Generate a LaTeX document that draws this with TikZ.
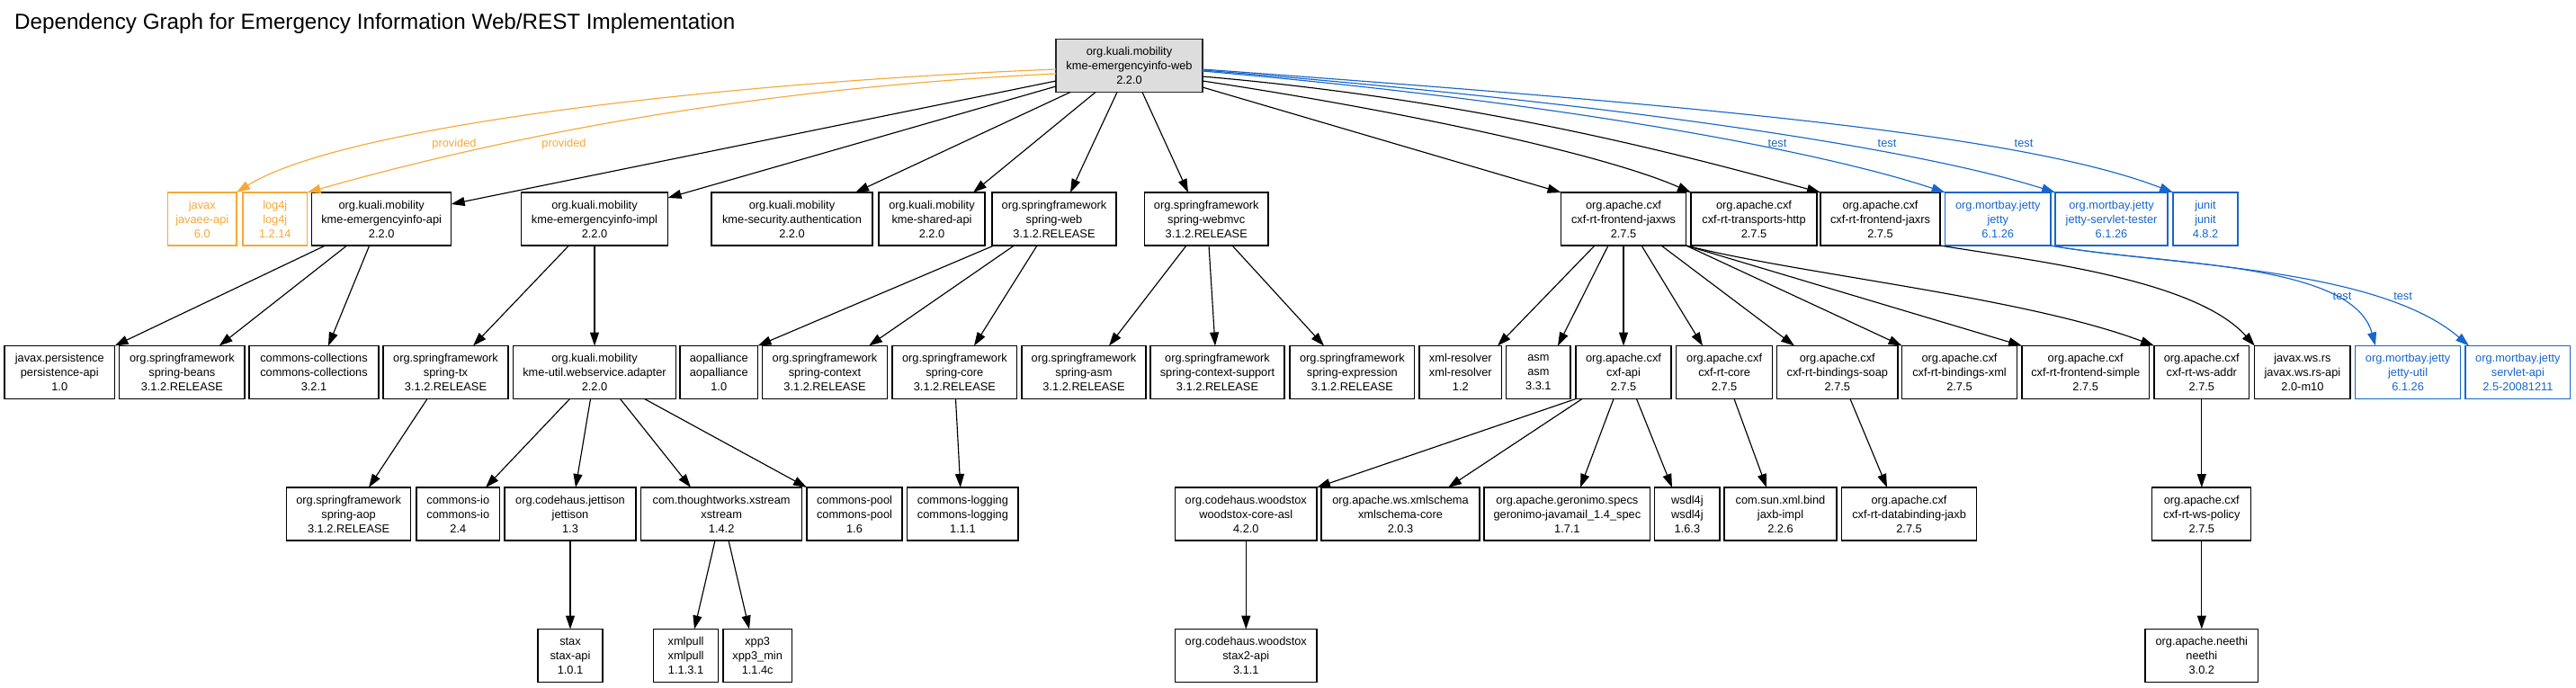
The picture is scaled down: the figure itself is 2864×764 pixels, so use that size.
\documentclass[tikz,border=0pt]{standalone}
\usepackage{fontspec}
\setmainfont{Liberation Sans}
\usetikzlibrary{arrows.meta,calc}
\definecolor{orng}{RGB}{247,168,55}
\definecolor{blu}{RGB}{22,102,204}
\definecolor{rootgray}{RGB}{221,221,221}
\begin{document}
\begin{tikzpicture}[x=1pt,y=-1pt,
  box/.style={draw=black, line width=1.3pt, fill=white, inner sep=0pt, outer sep=0pt,
    minimum height=59pt, align=center, font=\fontsize{12.8}{16}\selectfont},
  obox/.style={box, draw=orng, text=orng},
  bbox/.style={box, draw=blu, text=blu},
  rbox/.style={box, fill=rootgray, draw=black!85, line width=1.8pt},
  dep/.style={draw=black, line width=1.15pt, -{Triangle[length=15pt,width=10pt]}},
  odep/.style={dep, draw=orng},
  bdep/.style={dep, draw=blu},
  lbl/.style={font=\fontsize{12.8}{16}\selectfont, inner sep=0pt}
]
\useasboundingbox (0,0) rectangle (2864,764);
\node[anchor=base west, inner sep=0pt, font=\fontsize{24.2}{28}\selectfont] (title) at (16,32) {Dependency Graph for Emergency Information Web/REST Implementation};

% row 1
\node[rbox, minimum width=163] (n_root) at (1255.5,73) {org.kuali.mobility\\kme-emergencyinfo-web\\2.2.0};

% row 2
\node[obox, minimum width=76.4] (n_javaee) at (224.8,243.5) {javax\\javaee-api\\6.0};
\node[obox, minimum width=71.6] (n_log4j) at (305.8,243.5) {log4j\\log4j\\1.2.14};
\node[box, minimum width=155] (n_api) at (424.2,243.5) {org.kuali.mobility\\kme-emergencyinfo-api\\2.2.0};
\node[box, minimum width=163] (n_impl) at (661,243.5) {org.kuali.mobility\\kme-emergencyinfo-impl\\2.2.0};
\node[box, minimum width=179] (n_sec) at (880.5,243.5) {org.kuali.mobility\\kme-security.authentication\\2.2.0};
\node[box, minimum width=118] (n_shared) at (1036,243.5) {org.kuali.mobility\\kme-shared-api\\2.2.0};
\node[box, minimum width=138] (n_sweb) at (1172,243.5) {org.springframework\\spring-web\\3.1.2.RELEASE};
\node[box, minimum width=137.5] (n_smvc) at (1341.25,243.5) {org.springframework\\spring-webmvc\\3.1.2.RELEASE};
\node[box, minimum width=139] (n_jaxws) at (1805,243.5) {org.apache.cxf\\cxf-rt-frontend-jaxws\\2.7.5};
\node[box, minimum width=140] (n_transp) at (1950,243.5) {org.apache.cxf\\cxf-rt-transports-http\\2.7.5};
\node[box, minimum width=133] (n_jaxrs) at (2090.5,243.5) {org.apache.cxf\\cxf-rt-frontend-jaxrs\\2.7.5};
\node[bbox, minimum width=117.5] (n_jetty) at (2221.25,243.5) {org.mortbay.jetty\\jetty\\6.1.26};
\node[bbox, minimum width=125] (n_tester) at (2347.5,243.5) {org.mortbay.jetty\\jetty-servlet-tester\\6.1.26};
\node[bbox, minimum width=72] (n_junit) at (2452,243.5) {junit\\junit\\4.8.2};

% row 3
\node[box, minimum width=122.5] (n_persist) at (66.25,414) {javax.persistence\\persistence-api\\1.0};
\node[box, minimum width=139.3] (n_beans) at (202.35,414) {org.springframework\\spring-beans\\3.1.2.RELEASE};
\node[box, minimum width=144] (n_coll) at (349,414) {commons-collections\\commons-collections\\3.2.1};
\node[box, minimum width=139] (n_tx) at (495.5,414) {org.springframework\\spring-tx\\3.1.2.RELEASE};
\node[box, minimum width=181] (n_adapter) at (661,414) {org.kuali.mobility\\kme-util.webservice.adapter\\2.2.0};
\node[box, minimum width=86.5] (n_aop) at (799.25,414) {aopalliance\\aopalliance\\1.0};
\node[box, minimum width=139] (n_context) at (917,414) {org.springframework\\spring-context\\3.1.2.RELEASE};
\node[box, minimum width=138.7] (n_score) at (1061.35,414) {org.springframework\\spring-core\\3.1.2.RELEASE};
\node[box, minimum width=138] (n_sasm) at (1205,414) {org.springframework\\spring-asm\\3.1.2.RELEASE};
\node[box, minimum width=149] (n_ctxsup) at (1353.5,414) {org.springframework\\spring-context-support\\3.1.2.RELEASE};
\node[box, minimum width=138.7] (n_expr) at (1503.35,414) {org.springframework\\spring-expression\\3.1.2.RELEASE};
\node[box, minimum width=91.6] (n_xmlres) at (1623.8,414) {xml-resolver\\xml-resolver\\1.2};
\node[box, minimum width=71.3] (n_asm) at (1710.35,414) {asm\\asm\\3.3.1};
\node[box, minimum width=106] (n_cxfapi) at (1805,414) {org.apache.cxf\\cxf-api\\2.7.5};
\node[box, minimum width=107.2] (n_rtcore) at (1917.1,414) {org.apache.cxf\\cxf-rt-core\\2.7.5};
\node[box, minimum width=134.4] (n_bsoap) at (2042.8,414) {org.apache.cxf\\cxf-rt-bindings-soap\\2.7.5};
\node[box, minimum width=127.8] (n_bxml) at (2178.5,414) {org.apache.cxf\\cxf-rt-bindings-xml\\2.7.5};
\node[box, minimum width=141.4] (n_fsimple) at (2318.7,414) {org.apache.cxf\\cxf-rt-frontend-simple\\2.7.5};
\node[box, minimum width=105.6] (n_wsaddr) at (2447.8,414) {org.apache.cxf\\cxf-rt-ws-addr\\2.7.5};
\node[box, minimum width=106.2] (n_wsrs) at (2559.9,414) {javax.ws.rs\\javax.ws.rs-api\\2.0-m10};
\node[bbox, minimum width=116.8] (n_jutil) at (2677.1,414) {org.mortbay.jetty\\jetty-util\\6.1.26};
\node[bbox, minimum width=116.8] (n_servlet) at (2799.4,414) {org.mortbay.jetty\\servlet-api\\2.5-20081211};

% row 4
\node[box, minimum width=138.2] (n_springaop) at (387.6,571.5) {org.springframework\\spring-aop\\3.1.2.RELEASE};
\node[box, minimum width=92.6] (n_cio) at (509.3,571.5) {commons-io\\commons-io\\2.4};
\node[box, minimum width=146] (n_jettison) at (634,571.5) {org.codehaus.jettison\\jettison\\1.3};
\node[box, minimum width=178.9] (n_xstream) at (802.15,571.5) {com.thoughtworks.xstream\\xstream\\1.4.2};
\node[box, minimum width=106] (n_cpool) at (950,571.5) {commons-pool\\commons-pool\\1.6};
\node[box, minimum width=123.2] (n_clog) at (1070.4,571.5) {commons-logging\\commons-logging\\1.1.1};
\node[box, minimum width=157.4] (n_woodcore) at (1385.3,571.5) {org.codehaus.woodstox\\woodstox-core-asl\\4.2.0};
\node[box, minimum width=176] (n_xmlschema) at (1557,571.5) {org.apache.ws.xmlschema\\xmlschema-core\\2.0.3};
\node[box, minimum width=184.7] (n_geronimo) at (1742.35,571.5) {org.apache.geronimo.specs\\geronimo-javamail\_1.4\_spec\\1.7.1};
\node[box, minimum width=72.2] (n_wsdl4j) at (1875.9,571.5) {wsdl4j\\wsdl4j\\1.6.3};
\node[box, minimum width=125] (n_jaxb) at (1979.5,571.5) {com.sun.xml.bind\\jaxb-impl\\2.2.6};
\node[box, minimum width=149.7] (n_dbjaxb) at (2122.55,571.5) {org.apache.cxf\\cxf-rt-databinding-jaxb\\2.7.5};
\node[box, minimum width=110] (n_wspolicy) at (2447.8,571.5) {org.apache.cxf\\cxf-rt-ws-policy\\2.7.5};

% row 5
\node[box, minimum width=72.2] (n_stax) at (634,729) {stax\\stax-api\\1.0.1};
\node[box, minimum width=71.5] (n_xmlpull) at (762.55,729) {xmlpull\\xmlpull\\1.1.3.1};
\node[box, minimum width=76.4] (n_xpp3) at (842.2,729) {xpp3\\xpp3\_min\\1.1.4c};
\node[box, minimum width=157.4] (n_stax2) at (1385.3,729) {org.codehaus.woodstox\\stax2-api\\3.1.1};
\node[box, minimum width=125.7] (n_neethi) at (2447.8,729) {org.apache.neethi\\neethi\\3.0.2};

% root edges
\draw[odep] ($(n_root.west)+(0,4)$) .. controls (800,92) and (380,140) .. (n_javaee.north east);
\draw[odep] ($(n_root.west)+(0,9)$) .. controls (900,95) and (620,135) .. (n_log4j.north east);
\node[lbl, text=orng] (lp1) at (505,160) {provided};
\node[lbl, text=orng] (lp2) at (627,160) {provided};
\draw[dep] ($(n_root.west)+(0,17)$) -- ($(n_api.north east)+(0,13)$);
\draw[dep] ($(n_root.west)+(0,23)$) -- ($(n_impl.north east)+(0,6)$);
\draw[dep] ($(n_root.south west)+(16,0)$) -- ($(n_sec.north east)+(-19,0)$);
\draw[dep] ($(n_root.south west)+(44,0)$) -- ($(n_shared.north west)+(105,0)$);
\draw[dep] ($(n_root.south west)+(68,0)$) -- ($(n_sweb.north west)+(87,0)$);
\draw[dep] ($(n_root.south west)+(96,0)$) -- ($(n_smvc.north west)+(48.5,0)$);
\draw[dep] ($(n_root.east)+(0,24)$) -- (n_jaxws.north west);
\draw[dep] ($(n_root.east)+(0,17)$) .. controls (1550,122) and (1780,170) .. (n_transp.north west);
\draw[dep] ($(n_root.east)+(0,12)$) .. controls (1650,112) and (1880,175) .. (n_jaxrs.north west);
\draw[bdep] ($(n_root.east)+(0,6)$) .. controls (1750,115) and (2030,170) .. (n_jetty.north west);
\draw[bdep] ($(n_root.east)+(0,5)$) .. controls (1800,115) and (2130,165) .. (n_tester.north west);
\draw[bdep] ($(n_root.east)+(0,4)$) .. controls (1900,118) and (2250,150) .. (n_junit.north west);
\node[lbl, text=blu] (lt1) at (1976,159) {test};
\node[lbl, text=blu] (lt2) at (2098,159) {test};
\node[lbl, text=blu] (lt3) at (2250,159) {test};

% row 2 -> row 3
\draw[dep] ($(n_api.south west)+(15,0)$) -- (n_persist.north east);
\draw[dep] ($(n_api.south west)+(39,0)$) -- ($(n_beans.north west)+(111,0)$);
\draw[dep] ($(n_api.south west)+(64,0)$) -- ($(n_coll.north west)+(88,0)$);
\draw[dep] ($(n_impl.south west)+(53,0)$) -- ($(n_tx.north west)+(100,0)$);
\draw[dep] (n_impl.south) -- (n_adapter.north);
\draw[dep] ($(n_sweb.south west)+(2,0)$) -- (n_aop.north east);
\draw[dep] ($(n_sweb.south west)+(24.5,0)$) -- ($(n_context.north west)+(118.5,0)$);
\draw[dep] ($(n_sweb.south west)+(50,0)$) -- ($(n_score.north west)+(91,0)$);
\draw[dep] ($(n_smvc.south west)+(46.5,0)$) -- ($(n_sasm.north west)+(97,0)$);
\draw[dep] ($(n_smvc.south west)+(71.5,0)$) -- ($(n_ctxsup.north west)+(72,0)$);
\draw[dep] ($(n_smvc.south west)+(97.5,0)$) -- ($(n_expr.north west)+(38,0)$);
\draw[dep] ($(n_jaxws.south west)+(37.5,0)$) -- ($(n_xmlres.north east)+(-4.6,0)$);
\draw[dep] ($(n_jaxws.south west)+(52.5,0)$) -- ($(n_asm.north west)+(57.3,0)$);
\draw[dep] (n_jaxws.south) -- (n_cxfapi.north);
\draw[dep] ($(n_jaxws.south west)+(89.5,0)$) -- ($(n_rtcore.north west)+(29.5,0)$);
\draw[dep] ($(n_jaxws.south west)+(111.5,0)$) -- ($(n_bsoap.north west)+(19.4,0)$);
\draw[dep] (n_jaxws.south east) -- (n_bxml.north west);
\draw[dep] (n_jaxws.south east) -- (n_fsimple.north west);
\draw[dep] (n_jaxws.south east) .. controls (2000,305) and (2250,330) .. (n_wsaddr.north west);
\draw[dep] (n_jaxrs.south east) .. controls (2260,290) and (2440,310) .. (n_wsrs.north west);
\draw[bdep] (n_jetty.south east) .. controls (2400,295) and (2615,290) .. ($(n_jutil.north west)+(22.3,0)$);
\draw[bdep] (n_jetty.south east) .. controls (2400,295) and (2640,295) .. ($(n_servlet.north west)+(4,0)$);
\node[lbl, text=blu] (lt4) at (2604,329) {test};
\node[lbl, text=blu] (lt5) at (2671.6,329) {test};

% row 3 -> row 4
\draw[dep] ($(n_tx.south west)+(49,0)$) -- ($(n_springaop.north west)+(91.5,0)$);
\draw[dep] ($(n_adapter.south west)+(63,0)$) -- ($(n_cio.north west)+(77,0)$);
\draw[dep] ($(n_adapter.south west)+(86,0)$) -- ($(n_jettison.north west)+(79,0)$);
\draw[dep] ($(n_adapter.south west)+(119,0)$) -- ($(n_xstream.north west)+(55.3,0)$);
\draw[dep] ($(n_adapter.south west)+(146,0)$) -- (n_cpool.north west);
\draw[dep] ($(n_score.south west)+(70.5,0)$) -- ($(n_clog.north west)+(59,0)$);
\draw[dep] (n_cxfapi.south west) -- (n_woodcore.north east);
\draw[dep] ($(n_cxfapi.south west)+(7,0)$) -- ($(n_xmlschema.north west)+(141,0)$);
\draw[dep] ($(n_cxfapi.south west)+(42,0)$) -- ($(n_geronimo.north west)+(107,0)$);
\draw[dep] ($(n_cxfapi.south west)+(67.5,0)$) -- ($(n_wsdl4j.north west)+(19.2,0)$);
\draw[dep] ($(n_rtcore.south west)+(64.5,0)$) -- ($(n_jaxb.north west)+(47,0)$);
\draw[dep] ($(n_bsoap.south west)+(81.4,0)$) -- ($(n_dbjaxb.north west)+(50.3,0)$);
\draw[dep] (n_wsaddr.south) -- (n_wspolicy.north);

% row 4 -> row 5
\draw[dep] (n_jettison.south) -- (n_stax.north);
\draw[dep] ($(n_xstream.south west)+(82.3,0)$) -- ($(n_xmlpull.north west)+(45.2,0)$);
\draw[dep] ($(n_xstream.south west)+(97.3,0)$) -- ($(n_xpp3.north west)+(29,0)$);
\draw[dep] (n_woodcore.south) -- (n_stax2.north);
\draw[dep] (n_wspolicy.south) -- (n_neethi.north);
\end{tikzpicture}
\end{document}
